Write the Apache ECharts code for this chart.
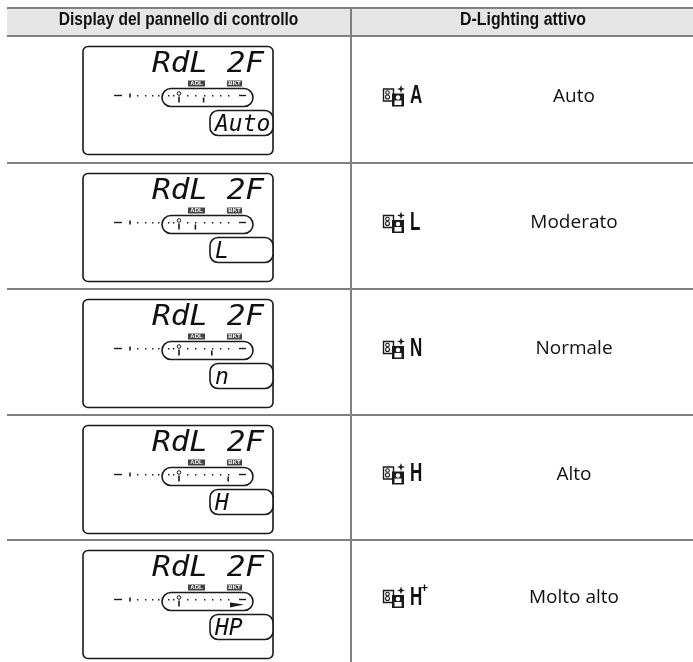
<!DOCTYPE html>
<html><head><meta charset="utf-8">
<style>html,body{margin:0;padding:0;background:#fff}#c{width:693px;height:662px}</style>
<script src="https://cdn.jsdelivr.net/npm/echarts@6/dist/echarts.min.js"></script>
</head><body><div id="c"></div>
<script>
const headers = ['Display del pannello di controllo', 'D-Lighting attivo'];
const lcdTop = 'RdL 2F';
const lcdModes = ['Auto', 'L', 'n', 'H', 'HP'];
const icons = ['A', 'L', 'N', 'H', 'H'];
const iconSup = ['', '', '', '', '+'];
const labels = ['Auto', 'Moderato', 'Normale', 'Alto', 'Molto alto'];
const meterSteps = [3, 2, 4, 6, 7];
const rowLines = [36, 163, 289, 415, 540, 662];

const LINE = '#808080', INK = '#1a1a1a';
const SANS = '"Liberation Sans",sans-serif';
const BODY = '"Open Sans","Noto Sans",sans-serif';
const MONO = '"DejaVu Sans Mono",monospace';

const chart = echarts.init(document.getElementById('c'), null, {renderer: 'canvas'});

function txt(x, y, text, font, opt) {
  opt = opt || {};
  return {type: 'text', x, y, scaleX: opt.sx || 1, scaleY: opt.sy || 1,
    style: {text, x: 0, y: 0, font, fill: opt.fill || '#111',
      align: opt.align || 'left', verticalAlign: opt.va || 'middle'}};
}
function rect(x, y, w, h, o) {
  return {type: 'rect', shape: {x, y, width: w, height: h, r: o.r || 0},
    style: {fill: o.fill || 'none', stroke: o.stroke || null, lineWidth: o.lw || 1}};
}
function seg(x1, y1, x2, y2, w, c) {
  return {type: 'line', shape: {x1, y1, x2, y2}, style: {stroke: c || INK, lineWidth: w || 1}};
}
function icon(x, y) {
  return [
    rect(x + .5, y + 3.5, 10, 12, {fill: '#fff', stroke: INK, lw: 1.4}),
    {type: 'circle', shape: {cx: x + 4.5, cy: y + 7, r: 1.8}, style: {fill: 'none', stroke: INK, lineWidth: 1.1}},
    {type: 'circle', shape: {cx: x + 4.5, cy: y + 11.5, r: 2}, style: {fill: 'none', stroke: INK, lineWidth: 1.1}},
    rect(x + 9, y + 8, 12, 13, {fill: INK}),
    {type: 'circle', shape: {cx: x + 15, cy: y + 12, r: 2.2}, style: {fill: '#fff'}},
    rect(x + 11.5, y + 15, 7, 4.5, {fill: '#fff'}),
    {type: 'polygon', shape: {points: [[x+17,y+2.5],[x+18,y-.5],[x+19,y+2.5],[x+22,y+3.5],[x+19,y+4.5],[x+18,y+7.5],[x+17,y+4.5],[x+14,y+3.5]]}, style: {fill: INK}}
  ];
}
function lcd(i, bx, by) {
  const c = [];
  const X = v => bx + v, Y = v => by + v;
  c.push(rect(X(0), Y(0), 190, 108, {stroke: INK, lw: 1.6, r: 5, fill: '#fff'}));
  c.push(txt(X(69), Y(18.5), lcdTop, 'oblique 31px ' + MONO, {sy: .92}));
  c.push(rect(X(105), Y(34), 17, 6, {fill: '#444'}));
  c.push(txt(X(113.5), Y(37), 'ADL', 'bold 6px "Liberation Sans"', {fill: '#fff', align: 'center'}));
  c.push(rect(X(144), Y(34), 15, 6, {fill: '#444'}));
  c.push(txt(X(151.5), Y(37), 'BKT', 'bold 6px "Liberation Sans"', {fill: '#fff', align: 'center'}));
  c.push(seg(X(31), Y(49), X(39), Y(49), 1.4));
  c.push(seg(X(47), Y(47), X(47), Y(51), 1.6));
  [54, 62, 69, 75, 85, 90, 104, 112, 121, 129, 137, 145].forEach(d => c.push(rect(X(d), Y(48.5), 1.4, 1.4, {fill: INK})));
  c.push(rect(X(79), Y(42), 91, 18, {stroke: INK, lw: 1.6, r: 9}));
  c.push({type: 'circle', shape: {cx: X(96), cy: Y(47), r: 1.8}, style: {fill: 'none', stroke: INK, lineWidth: 1}});
  c.push(seg(X(96), Y(50), X(96), Y(56), 1.6));
  c.push(seg(X(156), Y(49), X(163), Y(49), 1.4));
  const m = meterSteps[i];
  if (m < 7) c.push(seg(X(96 + m * 8.2), Y(51), X(96 + m * 8.2), Y(56), 1.6));
  else c.push({type: 'polygon', shape: {points: [[X(147), Y(52)], [X(161), Y(54)], [X(147), Y(57)]]}, style: {fill: INK}});
  c.push(rect(X(127), Y(64), 63, 25, {stroke: INK, lw: 1.6, r: 8, fill: '#fff'}));
  c.push(txt(X(132), Y(78), lcdModes[i], 'oblique 23px ' + MONO, {sy: 1.02}));
  return c;
}

const option = {
  animation: false,
  grid: {left: 0, top: 0, width: 693, height: 662},
  xAxis: {type: 'value', min: 0, max: 693, show: false},
  yAxis: {type: 'value', min: 0, max: 662, inverse: true, show: false},
  graphic: [
    {type: 'rect', shape: {x: 7, y: 8, width: 686, height: 28}, style: {fill: '#e6e6e6'}, z: -1},
    {type: 'line', shape: {x1: 7, y1: 8, x2: 693, y2: 8}, style: {stroke: LINE, lineWidth: 2}},
    {type: 'line', shape: {x1: 351, y1: 8, x2: 351, y2: 662}, style: {stroke: LINE, lineWidth: 2}},
    {type: 'text', x: 178.5, y: 20, scaleX: .865, style: {text: headers[0], x: 0, y: 0, font: 'bold 18px ' + SANS, fill: '#111', align: 'center', verticalAlign: 'middle'}},
    {type: 'text', x: 523, y: 20, scaleX: .88, style: {text: headers[1], x: 0, y: 0, font: 'bold 18px ' + SANS, fill: '#111', align: 'center', verticalAlign: 'middle'}}
  ],
  series: [{
    type: 'custom',
    coordinateSystem: 'cartesian2d',
    clip: false,
    silent: true,
    encode: {x: 0, y: 1},
    data: rowLines.slice(1).map((y, i) => [0, rowLines[i], y, i]),
    renderItem: (p, api) => {
      const i = api.value(3);
      const top = api.coord([0, api.value(1)])[1];
      const bot = api.coord([0, api.value(2)])[1];
      const mid = (top + bot) / 2;
      let ch = [seg(7, top, 693, top, 2.2, LINE)];
      ch = ch.concat(lcd(i, 83, top + 10.5));
      ch = ch.concat(icon(383, mid - 14));
      ch.push(txt(410, mid - 3, icons[i], 'bold 25px ' + SANS, {sx: .68}));
      if (iconSup[i]) ch.push(txt(421, mid - 12, iconSup[i], 'bold 12px ' + SANS));
      ch.push(txt(574, mid - 3, labels[i], '19px ' + BODY, {align: 'center'}));
      return {type: 'group', children: ch};
    }
  }]
};
chart.setOption(option);
</script></body></html>
